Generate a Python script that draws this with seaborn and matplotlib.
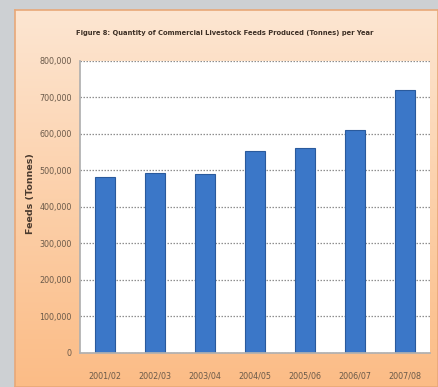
import numpy as np
import pandas as pd
import matplotlib
matplotlib.use("Agg")
import matplotlib.pyplot as plt
import seaborn as sns
from matplotlib.colors import LinearSegmentedColormap

years = ["2001/02", "2002/03", "2003/04", "2004/05", "2005/06", "2006/07", "2007/08"]
feeds_tonnes = [482000, 493000, 491000, 553000, 560000, 610000, 720000]
y_ticks = [0, 100000, 200000, 300000, 400000, 500000, 600000, 700000, 800000]
y_tick_labels = ["0", "100,000", "200,000", "300,000", "400,000", "500,000",
                 "600,000", "700,000", "800,000"]

df = pd.DataFrame({"Year": years, "Feeds": feeds_tonnes})

sns.set_theme(style="white")
plt.rcParams["font.family"] = ["DejaVu Sans"]

W, H = 438, 387
fig = plt.figure(figsize=(W / 100, H / 100), dpi=100)
fig.patch.set_facecolor("#cdd0d3")

# Peach-to-orange gradient panel behind the chart
bg = fig.add_axes([15 / W, 0, (W - 15) / W, (H - 10) / H], zorder=0)
grad = np.linspace(0, 1, 256).reshape(-1, 1)
cmap = LinearSegmentedColormap.from_list("panel", ["#fde6d2", "#fcd0aa", "#fbbc86"])
bg.imshow(grad, aspect="auto", cmap=cmap, extent=[0, 1, 0, 1], origin="upper")
bg.set_xlim(0, 1)
bg.set_ylim(0, 1)
bg.set_xticks([])
bg.set_yticks([])
for s in bg.spines.values():
    s.set_color("#e8a878")
    s.set_linewidth(1.2)

ax = fig.add_axes([80 / W, (H - 353) / H, 350 / W, 292.3 / H], zorder=1)
ax.set_facecolor("white")
sns.barplot(data=df, x="Year", y="Feeds", ax=ax, width=0.4,
            color="#3b77c8", edgecolor="#2a5a9c", linewidth=0.8, saturation=1)

ax.set_ylim(0, 800000)
ax.set_xlim(-0.5, len(years) - 0.5)
ax.set_yticks(y_ticks)
ax.set_yticklabels(y_tick_labels)
ax.yaxis.grid(True, linestyle=(0, (1.2, 1.2)), color="#8f8f8f", linewidth=0.9)
ax.set_axisbelow(True)
for side in ["top", "right"]:
    ax.spines[side].set_visible(False)
ax.spines["left"].set_color("#b0b0b0")
ax.spines["bottom"].set_color("#b0b0b0")
ax.tick_params(axis="y", length=3, color="#b0b0b0", labelsize=5.8, labelcolor="#6b5a4a", pad=3)
ax.tick_params(axis="x", length=0, labelsize=5.8, labelcolor="#6b5a4a", pad=13)
ax.set_xlabel("")
ax.set_ylabel("Feeds (Tonnes)", fontsize=6.8, fontweight="bold", color="#4a3a2e")
ax.yaxis.set_label_coords(-0.13, 0.546)

fig.text(225 / W, 1 - 33 / H,
         "Figure 8: Quantity of Commercial Livestock Feeds Produced (Tonnes) per Year",
         ha="center", va="center", fontsize=4.9, fontweight="bold", color="#3e3026")

fig.savefig("out.png", dpi=100, facecolor=fig.get_facecolor())
